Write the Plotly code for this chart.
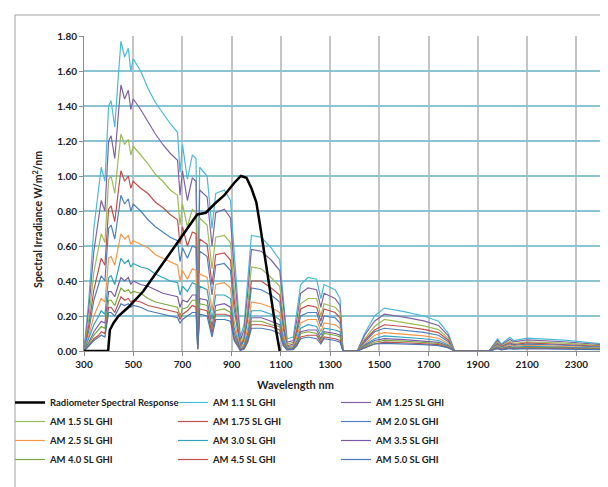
import plotly.graph_objects as go

# Wavelength nodes (nm) shared by all AM spectra
wavelength = [300, 320, 340, 360, 370, 385, 400, 410, 425, 440, 450, 465, 480, 490, 500, 530,
              560, 590, 620, 650, 680, 690, 700, 720, 740, 755, 762, 770, 800, 820, 835, 870,
              895, 910, 935, 950, 965, 980, 1020, 1060, 1095, 1110, 1125, 1150, 1165, 1180,
              1210, 1245, 1262, 1275, 1320, 1340, 1352, 1410, 1440, 1480, 1520, 1600, 1680,
              1740, 1780, 1805, 1945, 1980, 1995, 2030, 2045, 2100, 2250, 2400]

am_1_1 = [0, .30, .70, .92, 1.05, .97, 1.40, 1.43, 1.28, 1.58, 1.77, 1.68, 1.73, 1.60, 1.67, 1.60,
          1.50, 1.42, 1.36, 1.30, 1.25, 1.02, 1.18, .98, 1.12, 1.10, .25, 1.05, 1.00, .70, .90, .92,
          .86, .55, .08, .15, .40, .66, .65, .59, .52, .30, .07, .08, .22, .38,
          .42, .41, .30, .38, .35, .30, 0, 0, .10, .20, .245, .225, .20,
          .17, .10, 0, 0, .07, .04, .078, .06, .074, .062, .042]
am_1_25 = [0, .25, .57, .75, .86, .80, 1.20, 1.23, 1.10, 1.36, 1.52, 1.44, 1.49, 1.38, 1.44, 1.38,
           1.31, 1.24, 1.18, 1.13, 1.09, .89, 1.03, .86, .99, .97, .18, .92, .88, .60, .79, .81,
           .76, .46, .06, .12, .33, .58, .57, .52, .46, .24, .05, .06, .18, .33,
           .36, .35, .25, .33, .30, .26, 0, 0, .09, .17, .21, .194, .172,
           .146, .086, 0, 0, .06, .034, .067, .052, .064, .053, .036]
am_1_5 = [0, .19, .45, .59, .67, .62, .98, 1.00, .90, 1.11, 1.24, 1.18, 1.21, 1.12, 1.17, 1.12,
          1.07, 1.01, .97, .92, .89, .72, .84, .71, .81, .79, .12, .76, .72, .47, .65, .66,
          .62, .36, .04, .09, .26, .48, .47, .42, .37, .19, .04, .05, .14, .27,
          .30, .30, .20, .27, .25, .22, 0, 0, .07, .14, .18, .162, .144,
          .122, .072, 0, 0, .05, .029, .056, .043, .053, .045, .03]
am_1_75 = [0, .15, .35, .46, .53, .49, .81, .83, .74, .92, 1.03, .97, 1.00, .93, .97, .93,
           .90, .85, .82, .78, .75, .61, .71, .60, .68, .67, .09, .64, .61, .38, .55, .56,
           .52, .29, .03, .07, .21, .40, .40, .36, .32, .15, .03, .04, .12, .24,
           .26, .25, .17, .24, .22, .19, 0, 0, .06, .12, .15, .14, .124,
           .105, .062, 0, 0, .043, .025, .048, .037, .046, .038, .026]
am_2_0 = [0, .12, .29, .38, .43, .40, .70, .72, .64, .79, .89, .84, .87, .80, .84, .80,
          .75, .71, .68, .65, .63, .51, .59, .53, .60, .59, .07, .57, .54, .32, .49, .50,
          .46, .24, .02, .06, .18, .36, .35, .32, .28, .12, .025, .03, .10, .20,
          .22, .22, .14, .20, .19, .16, 0, 0, .05, .11, .13, .119, .106,
          .09, .053, 0, 0, .037, .021, .041, .032, .039, .033, .022]
am_2_5 = [0, .09, .20, .27, .30, .28, .53, .54, .49, .60, .67, .64, .66, .61, .63, .61,
          .59, .55, .53, .51, .49, .40, .46, .41, .47, .46, .04, .44, .42, .23, .38, .39,
          .36, .17, .015, .04, .13, .28, .27, .25, .22, .09, .02, .025, .08, .16,
          .18, .18, .11, .16, .15, .13, 0, 0, .04, .09, .105, .097, .086,
          .073, .043, 0, 0, .03, .017, .034, .026, .032, .027, .018]
am_3_0 = [0, .07, .15, .20, .23, .21, .42, .43, .38, .47, .53, .50, .52, .48, .50, .48,
          .47, .44, .42, .40, .39, .32, .37, .34, .39, .38, .03, .37, .35, .18, .32, .32,
          .30, .13, .01, .03, .10, .23, .23, .21, .18, .07, .015, .02, .06, .13,
          .15, .14, .09, .13, .12, .11, 0, 0, .035, .07, .086, .079, .07,
          .06, .035, 0, 0, .025, .014, .027, .021, .026, .022, .015]
am_3_5 = [0, .05, .11, .15, .17, .16, .34, .34, .31, .38, .42, .40, .42, .38, .40, .38,
          .37, .35, .33, .32, .31, .25, .29, .28, .32, .32, .02, .30, .29, .14, .26, .27,
          .25, .10, .008, .02, .08, .19, .19, .17, .15, .05, .012, .015, .05, .11,
          .12, .12, .07, .11, .10, .09, 0, 0, .03, .06, .071, .065, .058,
          .049, .029, 0, 0, .02, .012, .023, .017, .021, .018, .012]
am_4_0 = [0, .04, .09, .12, .14, .13, .29, .29, .26, .32, .36, .34, .35, .33, .34, .33,
          .30, .28, .27, .26, .25, .20, .24, .25, .29, .29, .02, .27, .26, .12, .23, .24,
          .22, .08, .006, .02, .07, .17, .17, .15, .14, .04, .01, .012, .04, .10,
          .11, .10, .06, .10, .09, .08, 0, 0, .025, .05, .061, .056, .05,
          .043, .025, 0, 0, .018, .01, .02, .015, .019, .016, .011]
am_4_5 = [0, .03, .07, .09, .11, .10, .25, .25, .22, .28, .31, .29, .30, .28, .29, .28,
          .26, .25, .24, .23, .22, .18, .21, .23, .26, .25, .01, .24, .23, .10, .21, .21,
          .20, .07, .005, .015, .06, .15, .15, .14, .12, .03, .008, .01, .035, .08,
          .09, .09, .05, .08, .07, .06, 0, 0, .02, .04, .051, .047, .042,
          .036, .021, 0, 0, .015, .008, .016, .013, .016, .013, .009]
am_5_0 = [0, .03, .06, .08, .09, .08, .22, .22, .20, .24, .27, .26, .27, .25, .26, .25,
          .23, .22, .21, .20, .19, .16, .18, .20, .22, .22, .01, .21, .20, .08, .18, .18,
          .17, .06, .004, .01, .05, .13, .13, .12, .10, .03, .006, .008, .03, .07,
          .08, .07, .04, .07, .06, .05, 0, 0, .018, .04, .044, .041, .036,
          .031, .018, 0, 0, .013, .007, .014, .011, .013, .011, .008]

# Radiometer spectral response
radiometer_wl = [300, 398, 405, 420, 440, 480, 540, 600, 670, 730, 760, 795, 830, 870, 910,
                 937, 960, 980, 1000, 1015, 1035, 1060, 1080, 1095]
radiometer_resp = [0, 0, 0.12, 0.16, 0.20, 0.25, 0.34, 0.46, 0.60, 0.72, 0.78, 0.79, 0.84, 0.89,
                   0.96, 1.00, 0.99, 0.93, 0.85, 0.72, 0.53, 0.29, 0.12, 0.0]

series_names = ["AM 1.1 SL GHI", "AM 1.25 SL GHI", "AM 1.5 SL GHI", "AM 1.75 SL GHI",
                "AM 2.0 SL GHI", "AM 2.5 SL GHI", "AM 3.0 SL GHI", "AM 3.5 SL GHI",
                "AM 4.0 SL GHI", "AM 4.5 SL GHI", "AM 5.0 SL GHI"]
series_values = [am_1_1, am_1_25, am_1_5, am_1_75, am_2_0, am_2_5, am_3_0, am_3_5,
                 am_4_0, am_4_5, am_5_0]
series_colors = ["#4BBAD6", "#8064A2", "#9BBB59", "#C0504D", "#4F81BD", "#F79646",
                 "#31A3BC", "#7A5CA6", "#7FA83E", "#C0504D", "#4A78B5"]

x_ticks = [300, 500, 700, 900, 1100, 1300, 1500, 1700, 1900, 2100, 2300]
y_ticks = [0.0, 0.2, 0.4, 0.6, 0.8, 1.0, 1.2, 1.4, 1.6, 1.8]

fig = go.Figure()
for i, (name, vals, col) in enumerate(zip(series_names, series_values, series_colors)):
    fig.add_trace(go.Scatter(x=wavelength, y=vals, mode="lines", name=name,
                             line=dict(color=col, width=1.2), legendrank=i + 2))
fig.add_trace(go.Scatter(x=radiometer_wl, y=radiometer_resp, mode="lines",
                         name="Radiometer Spectral Response",
                         line=dict(color="black", width=2.5), legendrank=1))

W, H = 608, 487
L, R, T, B = 76, 15, 28, 144
pw, ph = W - L - R, H - T - B

def px(xp):
    return (xp - L) / pw

def py(yp):
    return (H - B - yp) / ph

font_family = "Lato, 'Liberation Sans', Arial, sans-serif"

fig.update_layout(
    width=W, height=H,
    margin=dict(l=L, r=R, t=T, b=B, autoexpand=False),
    paper_bgcolor="white", plot_bgcolor="white",
    font=dict(family=font_family, size=10, color="#333333"),
    showlegend=True,
    legend=dict(orientation="h", x=px(2), y=py(380), xanchor="left", yanchor="top",
                entrywidth=118, entrywidthmode="pixels",
                font=dict(family=font_family, size=9.5, color="#222222", weight="bold"),
                bgcolor="rgba(0,0,0,0)", traceorder="normal"),
    xaxis=dict(range=[300, 2400], tickvals=x_ticks, ticktext=[str(v) for v in x_ticks],
               showgrid=True, gridcolor="#C4C4C4", gridwidth=1.5,
               showline=True, linecolor="#8C8C8C", linewidth=1,
               ticks="outside", ticklen=4, tickcolor="#8C8C8C",
               tickfont=dict(family=font_family, size=10, color="#222222", weight="bold"),
               zeroline=False),
    yaxis=dict(range=[0, 1.8], tickvals=y_ticks, tickformat=".2f",
               showgrid=True, gridcolor="#8CC3D3", gridwidth=1.5,
               showline=True, linecolor="#8C8C8C", linewidth=1,
               ticks="outside", ticklen=4, tickcolor="#8C8C8C",
               tickfont=dict(family=font_family, size=10, color="#222222", weight="bold"),
               zeroline=False),
    annotations=[
        dict(text="Wavelength nm", xref="paper", yref="paper", x=px(287), y=py(376),
             showarrow=False, font=dict(family=font_family, size=11, color="#222222", weight="bold"),
             xanchor="center", yanchor="middle"),
        dict(text="Spectral Irradiance W/m<sup>2</sup>/nm", xref="paper", yref="paper",
             x=px(30), y=py(212), textangle=-90, showarrow=False,
             font=dict(family=font_family, size=10.5, color="#222222", weight="bold"),
             xanchor="center", yanchor="middle"),
    ],
    shapes=[
        dict(type="rect", xref="paper", yref="paper", x0=px(7), x1=px(602), y0=py(492), y1=py(7),
             line=dict(color="#A0A0A0", width=1), fillcolor="rgba(0,0,0,0)", layer="below"),
    ],
)

fig.write_html("out.html")
